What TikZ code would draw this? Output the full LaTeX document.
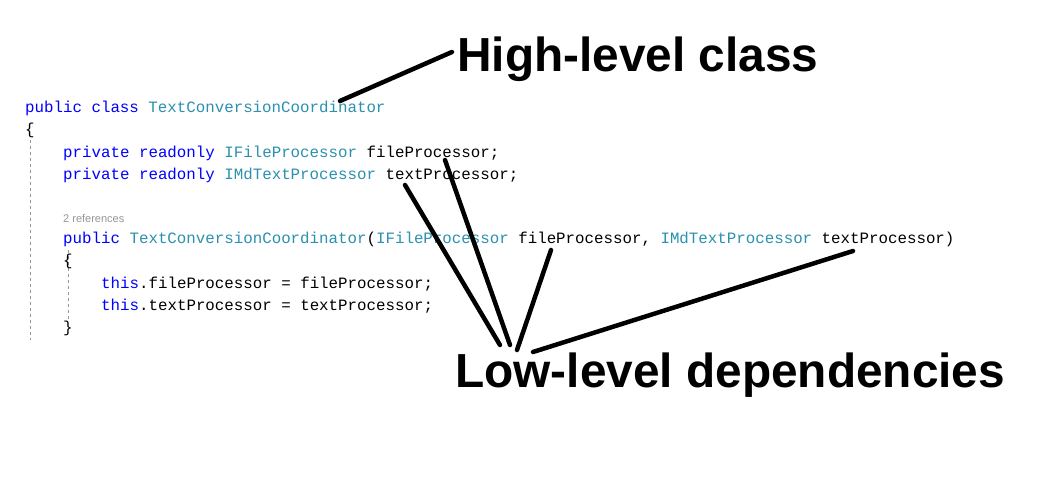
\documentclass[tikz,border=0pt]{standalone}
\usepackage{fontspec}
\setmainfont{Liberation Sans}
\newfontfamily\codefont{Liberation Mono}
\definecolor{kw}{RGB}{0,0,255}
\definecolor{ty}{RGB}{43,145,175}
\definecolor{gr}{RGB}{150,150,150}
\begin{document}
\begin{tikzpicture}[x=1pt,y=-1pt,
  code/.style={anchor=west,inner sep=0pt,font=\codefont\fontsize{15.8}{16}\selectfont},
  big/.style={anchor=west,inner sep=0pt,font=\bfseries\fontsize{47.8}{50}\selectfont},
  pointer/.style={line width=4.5pt,line cap=round}]
\useasboundingbox (0,0) rectangle (1050,502);
\fill[white] (0,0) rectangle (1050,502);
\draw[gr,dashed,thin] (30,140) -- (30,340);
\draw[gr,dashed,thin] (68,250) -- (68,320);
\node[code] (l1) at (25,108) {\textcolor{kw}{public class} \textcolor{ty}{TextConversionCoordinator}};
\node[code] (l2) at (25,130) {\{};
\node[code] (l3) at (63,153) {\textcolor{kw}{private readonly} \textcolor{ty}{IFileProcessor} fileProcessor;};
\node[code] (l4) at (63,175) {\textcolor{kw}{private readonly} \textcolor{ty}{IMdTextProcessor} textProcessor;};
\node[anchor=west,inner sep=0pt,font=\fontsize{11}{12}\selectfont,text=gr] (ref) at (63,219) {2 references};
\node[code] (l5) at (63,239) {\textcolor{kw}{public} \textcolor{ty}{TextConversionCoordinator}(\textcolor{ty}{IFileProcessor} fileProcessor, \textcolor{ty}{IMdTextProcessor} textProcessor)};
\node[code] (l6) at (63,261) {\{};
\node[code] (l7) at (101,284) {\textcolor{kw}{this}.fileProcessor = fileProcessor;};
\node[code] (l8) at (101,306) {\textcolor{kw}{this}.textProcessor = textProcessor;};
\node[code] (l9) at (63,328) {\}};
\node[big] (hi) at (457,59) {High-level class};
\node[big] (lo) at (455,375) {Low-level dependencies};
\coordinate (h0) at (340,101); \coordinate (h1) at (452,52);
\draw[pointer] (h0) -- (h1);
\coordinate (a0) at (405,185); \coordinate (a1) at (500,345);
\coordinate (b0) at (445,160); \coordinate (b1) at (510,345);
\coordinate (c0) at (551,250); \coordinate (c1) at (517,350);
\coordinate (d0) at (853,251); \coordinate (d1) at (533,352);
\draw[pointer] (a0) -- (a1);
\draw[pointer] (b0) -- (b1);
\draw[pointer] (c0) -- (c1);
\draw[pointer] (d0) -- (d1);
\end{tikzpicture}
\end{document}
